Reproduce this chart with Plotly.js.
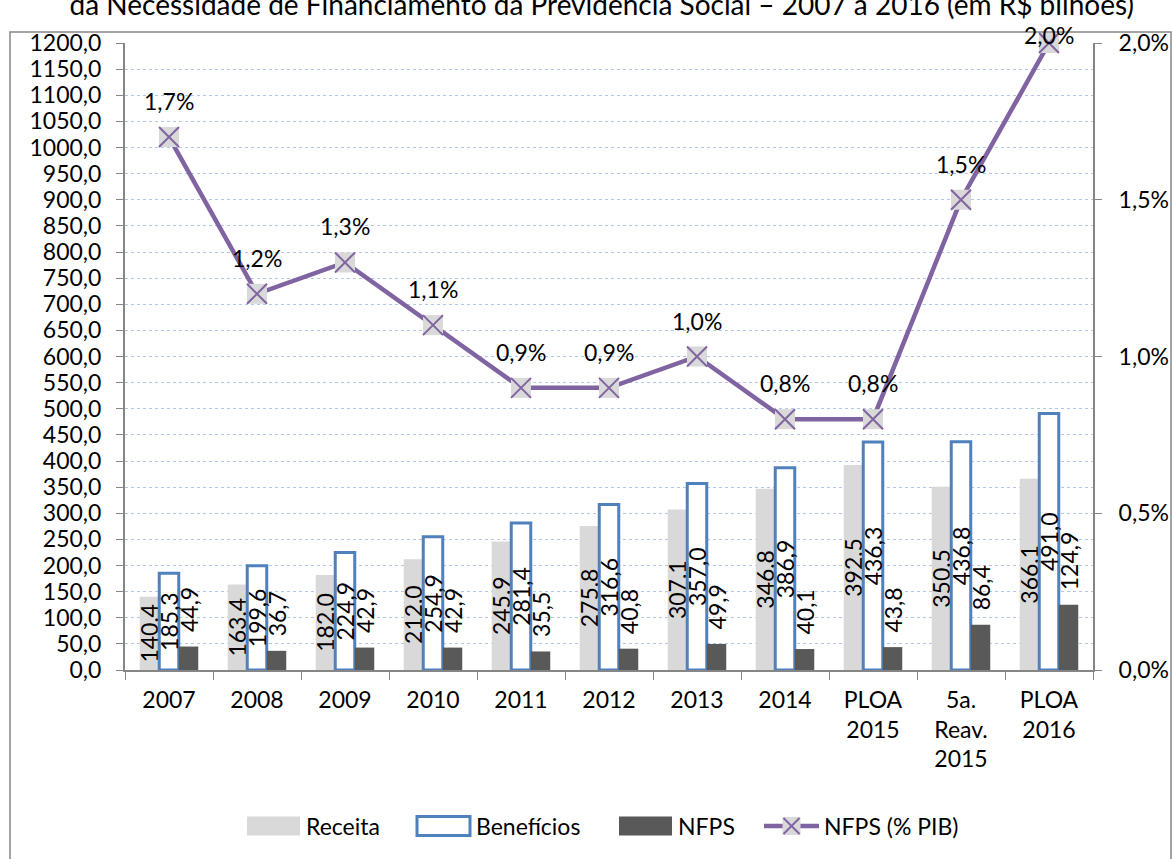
<!DOCTYPE html>
<html>
<head>
<meta charset="utf-8">
<script src="https://cdn.plot.ly/plotly-3.0.1.min.js"></script>
<style>html,body{margin:0;padding:0;background:#fff;}#chart{width:1173px;height:859px;}</style>
</head>
<body>
<div id="chart"></div>
<script>
const categories = ["2007","2008","2009","2010","2011","2012","2013","2014","PLOA<br>2015","5a.<br>Reav.<br>2015","PLOA<br>2016"];
const receita    = [140.4, 163.4, 182.0, 212.0, 245.9, 275.8, 307.1, 346.8, 392.5, 350.5, 366.1];
const beneficios = [185.3, 199.6, 224.9, 254.9, 281.4, 316.6, 357.0, 386.9, 436.3, 436.8, 491.0];
const nfps       = [44.9, 36.7, 42.9, 42.9, 35.5, 40.8, 49.9, 40.1, 43.8, 86.4, 124.9];
const nfpsPib    = [1.7, 1.2, 1.3, 1.1, 0.9, 0.9, 1.0, 0.8, 0.8, 1.5, 2.0];
const seriesNames = ["Receita", "Benefícios", "NFPS", "NFPS (% PIB)"];

const FONT = "Lato, 'Liberation Sans', sans-serif";
const FS = 23;
const PURPLE = "#8064a2";
const GRAY_L = "#d9d9d9", GRAY_D = "#595959", BLUE = "#4f81bd";

// plot-area geometry (pixels) used for paper-coordinate helpers
const W = 1173, H = 859, ML = 125, MR = 80, MT = 43, MB = 189;
const PW = W - ML - MR, PH = H - MT - MB;
const px = x => (x - ML) / PW;
const py = y => (H - MB - y) / PH;

const fmt = v => v.toFixed(1).replace(".", ",");

const traces = [
  {type:"bar", name:seriesNames[0], x:categories, y:receita, showlegend:false,
   marker:{color:GRAY_L, line:{width:0}},
   texttemplate:"%{y:.1f}", textposition:"inside", insidetextanchor:"middle",
   textangle:-90, constraintext:"none", textfont:{family:FONT,size:FS,color:"#000"}},
  {type:"bar", name:seriesNames[1], x:categories, y:beneficios, showlegend:false,
   marker:{color:"#ffffff", line:{color:BLUE, width:3}},
   texttemplate:"%{y:.1f}", textposition:"inside", insidetextanchor:"middle",
   textangle:-90, constraintext:"none", textfont:{family:FONT,size:FS,color:"#000"}},
  {type:"bar", name:seriesNames[2], x:categories, y:nfps, showlegend:false,
   marker:{color:GRAY_D, line:{width:0}}},
  {type:"scatter", mode:"lines", name:seriesNames[3], x:categories, y:nfpsPib, yaxis:"y2", showlegend:false,
   line:{color:PURPLE, width:4.5}},
  {type:"scatter", mode:"markers", showlegend:false, x:categories, y:nfpsPib, yaxis:"y2",
   marker:{symbol:"square", size:20, color:GRAY_L, line:{width:0}}, cliponaxis:false},
  {type:"scatter", mode:"markers", showlegend:false, x:categories, y:nfpsPib, yaxis:"y2",
   marker:{symbol:"x-thin-open", size:20, color:PURPLE, line:{color:PURPLE, width:2}}, cliponaxis:false}
];

const annotations = [];
nfpsPib.forEach((v,i)=>annotations.push({
  x: i, y: v, xref:"x", yref:"y2",
  text: fmt(v) + "%",
  showarrow:false, yshift: v >= 2.0 ? 8 : 36,
  font:{family:FONT, size:FS, color:"#000"}
}));
nfps.forEach((v,i)=>annotations.push({
  x: i, y: v, xref:"x", yref:"y", xshift: 20, yshift: 12,
  text: fmt(v), textangle: -90, yanchor:"bottom",
  showarrow:false, font:{family:FONT, size:FS, color:"#000"}
}));

// custom legend (wide swatches like the original)
const LY = 826, SW = 53, SH = 19;
const legendItems = [
  {x:247, kind:"bar", fill:GRAY_L, line:null},
  {x:417, kind:"bar", fill:"#ffffff", line:BLUE},
  {x:619, kind:"bar", fill:GRAY_D, line:null},
  {x:764, kind:"line"}
];
const shapes = [{type:"rect", xref:"paper", yref:"paper", x0:px(10), x1:px(1171), y0:py(880), y1:py(32),
           line:{color:"#868686", width:1.5}, fillcolor:"rgba(0,0,0,0)", layer:"below"}];
legendItems.forEach((it, k)=>{
  if (it.kind === "bar") {
    shapes.push({type:"rect", xref:"paper", yref:"paper", x0:px(it.x), x1:px(it.x+SW), y0:py(LY+SH/2), y1:py(LY-SH/2),
      fillcolor:it.fill, line: it.line ? {color:it.line, width:3} : {width:0}});
  } else {
    shapes.push({type:"line", xref:"paper", yref:"paper", x0:px(it.x), x1:px(it.x+SW+2), y0:py(LY), y1:py(LY),
      line:{color:PURPLE, width:4.5}});
    const cx = it.x + (SW+2)/2;
    shapes.push({type:"rect", xref:"paper", yref:"paper", x0:px(cx-9), x1:px(cx+9), y0:py(LY+9), y1:py(LY-9),
      fillcolor:GRAY_L, line:{width:0}});
    shapes.push({type:"line", xref:"paper", yref:"paper", x0:px(cx-8), x1:px(cx+8), y0:py(LY+8), y1:py(LY-8),
      line:{color:PURPLE, width:2}});
    shapes.push({type:"line", xref:"paper", yref:"paper", x0:px(cx-8), x1:px(cx+8), y0:py(LY-8), y1:py(LY+8),
      line:{color:PURPLE, width:2}});
  }
  annotations.push({xref:"paper", yref:"paper", x:px(it.x+SW+ (it.kind==="line"?5:4)), y:py(LY),
    xanchor:"left", yanchor:"middle", text:seriesNames[k], showarrow:false,
    font:{family:FONT, size:FS, color:"#000"}});
});

const layout = {
  width:W, height:H,
  separators:",.",
  paper_bgcolor:"#ffffff", plot_bgcolor:"#ffffff",
  margin:{l:ML, r:MR, t:MT, b:MB},
  font:{family:FONT, size:FS, color:"#000"},
  showlegend:false,
  title:{text:"da Necessidade de Financiamento da Previdência Social – 2007 a 2016 (em R$ bilhões)",
         x:0.513, xref:"container", y:0.9942, yref:"container", yanchor:"middle",
         font:{family:FONT, size:28, color:"#000"}},
  barmode:"group", bargap:0.335, bargroupgap:0,
  xaxis:{type:"category", tickson:"boundaries", ticks:"outside", ticklen:8, tickcolor:"#868686",
         showline:true, linecolor:"#868686", linewidth:2, showgrid:false, tickangle:0,
         range:[-0.5, categories.length-0.5], autorange:false, ticklabelstandoff:8,
         tickfont:{family:FONT, size:FS, color:"#000"}},
  yaxis:{range:[0,1200], dtick:50, tickformat:".1f", ticks:"outside", ticklen:7, tickcolor:"#868686",
         showline:true, linecolor:"#868686", linewidth:2, ticklabelstandoff:10,
         showgrid:true, gridcolor:"#b4c7e7", griddash:"dot", gridwidth:1, zeroline:false,
         tickfont:{family:FONT, size:FS, color:"#000"}},
  yaxis2:{range:[0,2.0], dtick:0.5, tickformat:".1f", ticksuffix:"%", overlaying:"y", side:"right",
          ticks:"outside", ticklen:7, tickcolor:"#868686", ticklabelstandoff:12,
          showline:true, linecolor:"#868686", linewidth:2, showgrid:false, zeroline:false,
          tickfont:{family:FONT, size:FS, color:"#000"}},
  annotations: annotations,
  shapes: shapes
};

Plotly.newPlot("chart", traces, layout, {displayModeBar:false, staticPlot:true});
</script>
</body>
</html>
